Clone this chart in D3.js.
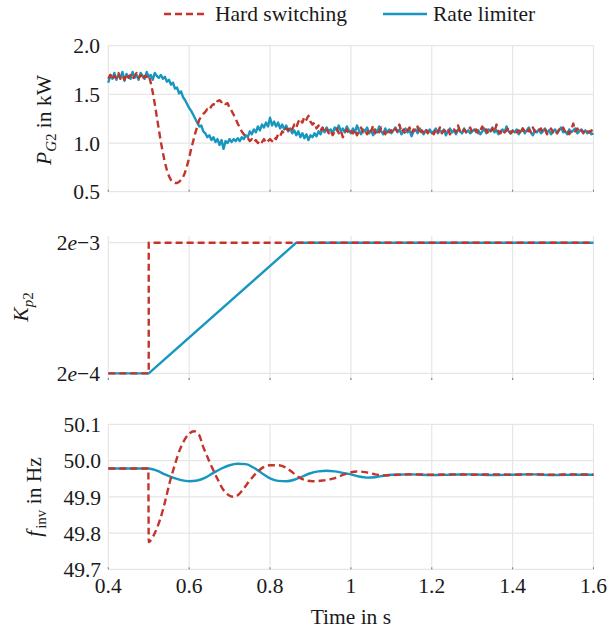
<!DOCTYPE html>
<html><head><meta charset="utf-8">
<script src="https://cdn.jsdelivr.net/npm/d3@7"></script>
<style>
html,body{margin:0;padding:0;background:#fff;}
</style></head>
<body><svg id="chart" width="610" height="633" font-family="'Liberation Serif', 'Times New Roman', Tinos, 'Nimbus Roman', 'DejaVu Serif', serif"></svg>
<script>
// ---------------- DATA ----------------
const seriesNames = ["Hard switching", "Rate limiter"];
const xTicks = [0.4, 0.6, 0.8, 1.0, 1.2, 1.4, 1.6];
const xTickLabels = ["0.4", "0.6", "0.8", "1", "1.2", "1.4", "1.6"];
const pTicks = [0.5, 1.0, 1.5, 2.0];
const kTicks = [2e-4, 2e-3];
const fTicks = [49.7, 49.8, 49.9, 50.0, 50.1];

// P_G2 sampled every 5 ms from 0.4 s to 1.6 s (241 samples)
const pStart = 0.4, pStep = 0.005;
const pHard = [
 1.66,1.70,1.65,1.69,1.67,1.72,1.66,1.69,1.65,1.71,1.67,1.70,1.66,1.69,1.72,1.67,1.70,1.65,1.69,1.68,1.70,
 1.62,1.52,1.40,1.27,1.14,1.01,0.90,0.80,0.72,0.66,0.62,0.60,0.59,0.59,
 0.60,0.62,0.65,0.70,0.77,0.85,0.94,1.02,1.10,1.17,1.24,1.27,1.30,1.32,1.35,1.34,1.38,1.40,1.39,1.43,1.44,1.42,
 1.43,1.40,1.41,1.36,1.33,1.29,1.25,1.20,1.16,1.12,1.09,1.06,1.05,1.02,1.04,1.01,1.03,1.00,1.03,1.01,1.04,1.00,1.02,1.04,
 1.02,1.06,1.04,1.09,1.07,1.12,1.10,1.15,1.13,1.17,1.14,1.19,1.16,1.22,1.25,1.21,1.27,1.24,1.28,1.22,
 1.19,1.21,1.15,1.18,1.13,1.16,1.11,1.14,1.10,1.13,1.08,1.12,1.15,1.10,1.13,1.06,1.11,1.14,1.09,1.12,
 1.10,1.14,1.08,1.12,1.16,1.11,1.13,1.09,1.15,1.12,1.18,1.10,1.14,1.11,1.16,1.13,1.09,1.14,1.11,1.13,
 1.10,1.15,1.12,1.19,1.11,1.14,1.09,1.13,1.16,1.10,1.14,1.12,1.17,1.09,1.13,1.11,1.15,1.10,1.13,1.12,
 1.09,1.14,1.11,1.16,1.10,1.13,1.12,1.15,1.09,1.12,1.14,1.11,1.18,1.12,1.10,1.14,1.11,1.13,1.16,1.10,
 1.12,1.14,1.10,1.13,1.17,1.11,1.14,1.09,1.12,1.15,1.11,1.19,1.12,1.10,1.14,1.11,1.13,1.16,1.10,1.12,
 1.14,1.11,1.13,1.09,1.15,1.12,1.10,1.14,1.11,1.16,1.12,1.10,1.13,1.15,1.11,1.14,1.09,1.12,1.15,1.11,
 1.13,1.10,1.14,1.12,1.16,1.11,1.13,1.09,1.14,1.20,1.12,1.15,1.11,1.13,1.10,1.14,1.12,1.11,1.13,1.11
];
const pRate = [
 1.62,1.70,1.66,1.72,1.65,1.70,1.67,1.73,1.64,1.71,1.68,1.66,1.73,1.67,1.70,1.65,1.72,1.69,1.66,1.73,1.68,1.70,1.65,1.72,1.69,1.67,
 1.70,1.66,1.68,1.63,1.65,1.60,1.62,1.56,1.57,1.51,1.53,1.47,1.44,1.40,1.36,1.33,1.29,1.25,1.21,1.17,1.18,1.12,1.10,1.06,1.08,1.03,1.06,1.01,1.04,0.98,1.03,0.94,1.02,1.00,1.04,
 1.01,1.04,1.02,1.05,1.02,1.06,1.04,1.08,1.06,1.12,1.09,1.14,1.11,1.17,1.13,1.19,1.16,1.21,1.17,1.26,
 1.18,1.22,1.17,1.21,1.15,1.19,1.14,1.18,1.12,1.15,1.10,1.13,1.08,1.12,1.06,1.10,1.05,1.09,1.03,1.08,
 1.06,1.10,1.07,1.12,1.09,1.15,1.11,1.16,1.12,1.14,1.10,1.16,1.13,1.18,1.12,1.15,1.11,1.17,1.13,1.10,
 1.15,1.11,1.18,1.13,1.09,1.14,1.12,1.16,1.10,1.13,1.08,1.14,1.11,1.17,1.12,1.09,1.15,1.11,1.14,1.10,
 1.13,1.16,1.11,1.14,1.09,1.12,1.15,1.11,1.13,1.07,1.12,1.14,1.10,1.15,1.12,1.09,1.13,1.11,1.14,1.10,
 1.12,1.15,1.10,1.13,1.11,1.14,1.08,1.12,1.15,1.11,1.13,1.09,1.14,1.12,1.10,1.15,1.11,1.13,1.10,1.12,
 1.14,1.11,1.13,1.09,1.12,1.15,1.10,1.14,1.12,1.16,1.11,1.13,1.09,1.12,1.14,1.11,1.17,1.12,1.10,1.13,
 1.11,1.14,1.09,1.12,1.15,1.10,1.13,1.16,1.11,1.08,1.13,1.11,1.14,1.10,1.12,1.15,1.11,1.13,1.09,1.12,
 1.14,1.10,1.13,1.16,1.11,1.12,1.09,1.14,1.11,1.13,1.15,1.10,1.12,1.14,1.11,1.13,1.10,1.12,1.09,1.10
];

// K_p2 (time, value)
const kHardT = [0.4, 0.5, 0.5, 1.6];
const kHardV = [2e-4, 2e-4, 2e-3, 2e-3];
const kRateT = [0.4, 0.5, 0.865, 1.6];
const kRateV = [2e-4, 2e-4, 2e-3, 2e-3];

// f_inv (time, value)
const fHardT = [0.4,0.499,0.5,0.505,0.515,0.528,0.54,0.552,0.565,0.577,0.59,0.6,0.612,0.624,0.634,0.647,0.659,0.672,0.684,0.697,0.709,0.721,0.733,0.75,0.767,0.784,0.8,0.82,0.84,0.857,0.873,0.89,0.906,0.93,0.955,0.975,0.995,1.015,1.035,1.06,1.08,1.1,1.15,1.2,1.25,1.3,1.35,1.4,1.45,1.5,1.55,1.6];
const fHardV = [49.978,49.978,49.775,49.78,49.80,49.837,49.885,49.94,49.99,50.03,50.06,50.074,50.081,50.072,50.04,50.005,49.975,49.945,49.92,49.905,49.90,49.905,49.92,49.945,49.967,49.982,49.987,49.987,49.98,49.966,49.953,49.945,49.943,49.945,49.95,49.958,49.966,49.97,49.968,49.962,49.959,49.96,49.962,49.961,49.962,49.961,49.962,49.961,49.962,49.961,49.962,49.961];
const fRateT = [0.4,0.5,0.52,0.54,0.56,0.58,0.6,0.62,0.64,0.66,0.68,0.7,0.72,0.74,0.76,0.78,0.8,0.82,0.84,0.86,0.88,0.9,0.92,0.94,0.96,0.98,1.0,1.02,1.04,1.06,1.08,1.1,1.15,1.2,1.25,1.3,1.35,1.4,1.45,1.5,1.55,1.6];
const fRateV = [49.978,49.978,49.972,49.962,49.953,49.946,49.943,49.945,49.953,49.966,49.978,49.987,49.991,49.99,49.98,49.965,49.951,49.944,49.943,49.947,49.956,49.965,49.97,49.972,49.97,49.966,49.962,49.956,49.953,49.954,49.958,49.961,49.962,49.96,49.961,49.962,49.96,49.961,49.962,49.96,49.961,49.961];

// ---------------- STYLE / LAYOUT ----------------
const RED = "#c4342a", BLUE = "#1797c0", GRID = "#e6e6e6", INK = "#1a1a1a";
const FS = 21.5;
const svg = d3.select("#chart");
const x = d3.scaleLinear().domain([0.4, 1.6]).range([108.3, 593.5]);

const panels = [
  {top: 45.7, bottom: 191.7},
  {top: 236, bottom: 380},
  {top: 424.3, bottom: 569.3}
];
const yP = d3.scaleLinear().domain([0.5, 2.0]).range([191.7, 45.7]);
const yK = d3.scaleLog().domain([1.78e-4, 2.25e-3]).range([380, 236]);
const yF = d3.scaleLinear().domain([49.7, 50.1]).range([569.3, 424.3]);

function grid(panel, yScale, yTicks){
  const g = svg.append("g");
  g.selectAll("line.v").data(xTicks).enter().append("line")
    .attr("x1", d => x(d)).attr("x2", d => x(d))
    .attr("y1", panel.top).attr("y2", panel.bottom)
    .attr("stroke", GRID).attr("stroke-width", 1.2);
  g.selectAll("line.h").data(yTicks).enter().append("line")
    .attr("x1", x.range()[0]).attr("x2", x.range()[1])
    .attr("y1", d => yScale(d)).attr("y2", d => yScale(d))
    .attr("stroke", GRID).attr("stroke-width", 1.2);
  g.selectAll("line.t").data(xTicks).enter().append("line")
    .attr("x1", d => x(d)).attr("x2", d => x(d))
    .attr("y1", panel.bottom - 2).attr("y2", panel.bottom)
    .attr("stroke", "#777").attr("stroke-width", 1);
}
grid(panels[0], yP, pTicks);
grid(panels[1], yK, kTicks);
grid(panels[2], yF, fTicks);

function txt(g){ return g.attr("font-size", FS).attr("fill", INK); }

// y tick labels
txt(svg.append("g")).selectAll("text").data(pTicks).enter().append("text")
  .attr("x", 100).attr("y", d => yP(d)).attr("dy", "0.36em")
  .attr("text-anchor", "end").text(d => d3.format(".1f")(d));
txt(svg.append("g")).selectAll("text").data(fTicks).enter().append("text")
  .attr("x", 101).attr("y", d => yF(d)).attr("dy", "0.36em")
  .attr("text-anchor", "end").text(d => d3.format(".1f")(d));
const kt = txt(svg.append("g")).selectAll("text").data(kTicks).enter().append("text")
  .attr("x", 100).attr("y", d => yK(d)).attr("dy", "0.36em")
  .attr("text-anchor", "end");
kt.append("tspan").text("2");
kt.append("tspan").attr("font-style", "italic").text("e");
kt.append("tspan").text(d => "\u2212" + Math.round(-Math.log10(d / 2)));

// x tick labels
txt(svg.append("g")).selectAll("text").data(xTicks).enter().append("text")
  .attr("x", d => x(d)).attr("y", 593).attr("text-anchor", "middle")
  .text((d, i) => xTickLabels[i]);
txt(svg.append("text")).attr("x", (x.range()[0] + x.range()[1]) / 2).attr("y", 624)
  .attr("text-anchor", "middle").text("Time in s");

// y axis titles
const t1 = txt(svg.append("text")).attr("transform", "translate(51,120) rotate(-90)")
  .attr("text-anchor", "middle");
t1.append("tspan").attr("font-style", "italic").text("P");
t1.append("tspan").attr("font-style", "italic").attr("font-size", 15).attr("dy", 5).text("G");
t1.append("tspan").attr("font-size", 15).text("2");
t1.append("tspan").attr("dy", -5).text(" in kW");

const t2 = txt(svg.append("text")).attr("transform", "translate(28,307) rotate(-90)")
  .attr("text-anchor", "middle");
t2.append("tspan").attr("font-style", "italic").text("K");
t2.append("tspan").attr("font-style", "italic").attr("font-size", 15).attr("dy", 5).text("p");
t2.append("tspan").attr("font-size", 15).text("2");

const t3 = txt(svg.append("text")).attr("transform", "translate(41,497) rotate(-90)")
  .attr("text-anchor", "middle");
t3.append("tspan").attr("font-style", "italic").text("f");
t3.append("tspan").attr("font-size", 15).attr("dy", 5).attr("dx", 2).text("inv");
t3.append("tspan").attr("dy", -5).text(" in Hz");

// ---------------- LINES ----------------
const pTimes = pRate.map((_, i) => pStart + i * pStep);
function draw(ts, vs, yScale, color, dashed, curve){
  const pts = ts.map((t, i) => [t, vs[i]]);
  svg.append("path").datum(pts)
    .attr("fill", "none").attr("stroke", color).attr("stroke-width", 2.4)
    .attr("stroke-linejoin", "round")
    .attr("stroke-dasharray", dashed ? "7,4" : null)
    .attr("d", d3.line().x(d => x(d[0])).y(d => yScale(d[1])).curve(curve || d3.curveLinear));
}
draw(pTimes, pRate, yP, BLUE, false);
draw(pTimes, pHard, yP, RED, true);
draw(kRateT, kRateV, yK, BLUE, false);
draw(kHardT, kHardV, yK, RED, true);
draw(fRateT, fRateV, yF, BLUE, false, d3.curveMonotoneX);
draw(fHardT, fHardV, yF, RED, true, d3.curveMonotoneX);

// ---------------- LEGEND ----------------
const leg = svg.append("g");
const legItems = [
  {name: seriesNames[0], color: RED, dashed: true, x0: 164, x1: 208, tx: 215},
  {name: seriesNames[1], color: BLUE, dashed: false, x0: 383, x1: 427, tx: 433}
];
legItems.forEach(it => {
  leg.append("line").attr("x1", it.x0).attr("x2", it.x1).attr("y1", 14).attr("y2", 14)
    .attr("stroke", it.color).attr("stroke-width", 2.4)
    .attr("stroke-dasharray", it.dashed ? "7,4" : null);
  txt(leg.append("text")).attr("x", it.tx).attr("y", 21).text(it.name);
});
</script></body></html>
